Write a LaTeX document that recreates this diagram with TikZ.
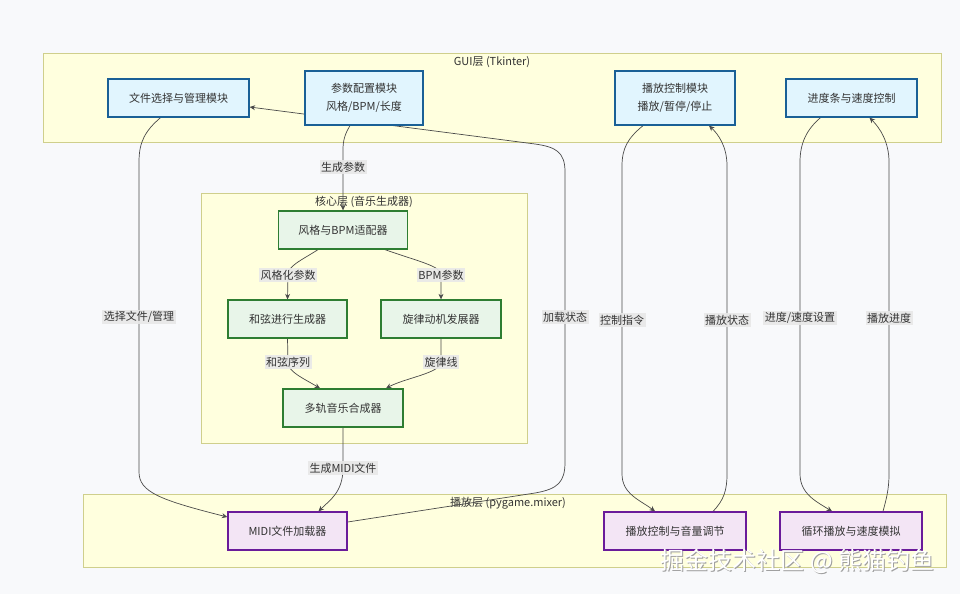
\documentclass[tikz,border=0pt]{standalone}
\usepackage{fontspec}
\setmainfont{Noto Sans CJK SC}
\usetikzlibrary{arrows.meta,calc}
\definecolor{bgc}{HTML}{F8F9FB}
\definecolor{frfill}{HTML}{FFFFDE}
\definecolor{frdraw}{HTML}{CFCF8C}
\definecolor{txt}{HTML}{333333}
\definecolor{guifill}{HTML}{E1F5FE}
\definecolor{guidraw}{HTML}{1A6096}
\definecolor{corefill}{HTML}{E8F5E9}
\definecolor{coredraw}{HTML}{2E7D32}
\definecolor{playfill}{HTML}{F3E5F5}
\definecolor{playdraw}{HTML}{6A1B9A}
\definecolor{edgec}{HTML}{4A4A4A}
\definecolor{lblbg}{HTML}{E8E8E8}
\pgfdeclarelayer{frames}
\pgfdeclarelayer{edges}
\pgfsetlayers{frames,edges,main}
\tikzset{
  base/.style={font=\fontsize{11}{18}\selectfont, text=txt},
  frame/.style={draw=frdraw, fill=frfill, line width=0.9pt},
  framelabel/.style={base, inner sep=0pt},
  guibox/.style={base, draw=guidraw, fill=guifill, line width=1.3pt, align=center, inner sep=0pt},
  corebox/.style={base, draw=coredraw, fill=corefill, line width=1.3pt, align=center, inner sep=0pt},
  playbox/.style={base, draw=playdraw, fill=playfill, line width=1.3pt, align=center, inner sep=0pt},
  conn/.style={draw=edgec, line width=0.7pt, -{Stealth[length=5.5pt,width=5pt]}},
  elabel/.style={base, fill=lblbg, fill opacity=0.9, text opacity=1, inner sep=1.5pt},
  wmark/.style={font=\fontsize{24}{24}\selectfont, inner sep=0pt},
}
\begin{document}
\begin{tikzpicture}[x=1pt,y=-1pt]
\useasboundingbox (0,0) rectangle (960,594);

% frames
\begin{pgfonlayer}{frames}
\fill[bgc] (0,0) rectangle (960,594);
\draw[frame] (43,53) rectangle (941,142);
\node[framelabel] (guil) at (492,62) {GUI层 (Tkinter)};
\draw[frame] (201,193) rectangle (527,443);
\node[framelabel] (corel) at (364,202) {核心层 (音乐生成器)};
\draw[frame] (83,494) rectangle (946,567);
\node[framelabel] (playl) at (508,503) {播放层 (pygame.mixer)};
\end{pgfonlayer}

% GUI nodes
\node[guibox, minimum width=141pt, minimum height=38pt] (fs) at (178.5,98) {文件选择与管理模块};
\node[guibox, minimum width=118pt, minimum height=54pt] (param) at (364,98) {参数配置模块\\风格/BPM/长度};
\node[guibox, minimum width=120pt, minimum height=54pt] (play) at (675,98) {播放控制模块\\播放/暂停/停止};
\node[guibox, minimum width=131pt, minimum height=38pt] (prog) at (851.5,98) {进度条与速度控制};

% core nodes
\node[corebox, minimum width=129pt, minimum height=38pt] (adapt) at (343,230) {风格与BPM适配器};
\node[corebox, minimum width=119pt, minimum height=38pt] (chord) at (287.5,319) {和弦进行生成器};
\node[corebox, minimum width=120pt, minimum height=38pt] (melody) at (441,319) {旋律动机发展器};
\node[corebox, minimum width=120pt, minimum height=38pt] (multi) at (343,408) {多轨音乐合成器};

% playback nodes
\node[playbox, minimum width=119pt, minimum height=38pt] (midi) at (287.5,531) {MIDI文件加载器};
\node[playbox, minimum width=142pt, minimum height=38pt] (pvol) at (675,531) {播放控制与音量调节};
\node[playbox, minimum width=142pt, minimum height=38pt] (loop) at (851,531) {循环播放与速度模拟};

% edges
\begin{pgfonlayer}{edges}
% 加载状态 : midi -> fs (behind param box)
\draw[conn] ($(midi.east)+(0,-9)$) -- (535,493)
  .. controls (558,489) and (565,482) .. (565,462)
  -- node[elabel] {加载状态} (565,172)
  .. controls (565,152) and (556,147) .. (535,144)
  -- ($(fs.east)+(0,9)$);
% 选择文件/管理 : fs -> midi
\draw[conn] ($(fs.south)+(-18,0)$) .. controls (145,131) and (139,142) .. (139,162)
  -- node[elabel] {选择文件/管理} (139,472)
  .. controls (139,492) and (160,500) .. ($(midi.west)+(0,-14)$);
% 生成参数 : param -> adapt
\draw[conn] ($(param.south)+(-14,0)$) .. controls (345,134) and (343,140) .. (343,150)
  -- (343,167) node[elabel] {生成参数} -- (adapt.north);
% 风格化参数
\draw[conn] ($(adapt.south)+(-25,0)$) .. controls (300,261) and (288,266) .. (288,275)
  node[elabel] {风格化参数} -- (chord.north);
% BPM参数
\draw[conn] ($(adapt.south)+(42,0)$) .. controls (420,262) and (441,266) .. (441,275)
  node[elabel] {BPM参数} -- (melody.north);
% 和弦序列
\draw[conn] (chord.south) -- (288,362) node[elabel] {和弦序列}
  .. controls (288,372) and (303,378) .. ($(multi.north)+(-23,0)$);
% 旋律线
\draw[conn] (melody.south) -- (441,362) node[elabel] {旋律线}
  .. controls (441,373) and (405,378) .. ($(multi.north)+(43,0)$);
% 生成MIDI文件
\draw[conn] (multi.south) -- (343,468) node[elabel] {生成MIDI文件}
  .. controls (343,492) and (330,500) .. ($(midi.north)+(31,0)$);
% 控制指令
\draw[conn] ($(play.south)+(-32,0)$) .. controls (628,138) and (622,148) .. (622,166)
  -- node[elabel] {控制指令} (622,474)
  .. controls (622,494) and (640,500) .. ($(pvol.north)+(-20,0)$);
% 播放状态
\draw[conn] ($(pvol.north)+(38,0)$) .. controls (724,500) and (727,490) .. (727,474)
  -- node[elabel] {播放状态} (727,166)
  .. controls (727,146) and (718,134) .. ($(play.south)+(34,0)$);
% 进度/速度设置
\draw[conn] ($(prog.south)+(-31,0)$) .. controls (806,130) and (800,144) .. (800,162)
  -- node[elabel] {进度/速度设置} (800,474)
  .. controls (800,494) and (817,502) .. ($(loop.north)+(-19,0)$);
% 播放进度
\draw[conn] ($(loop.north)+(32,0)$) .. controls (886,500) and (889,490) .. (889,474)
  -- node[elabel] {播放进度} (889,162)
  .. controls (889,142) and (880,128) .. ($(prog.south)+(18,0)$);
\end{pgfonlayer}

% watermark
\node[wmark, text=gray!75] (wm2) at (798.5,562.5) {掘金技术社区 @ 熊猫钓鱼};
\node[wmark, text=white] (wm) at (797.5,561.5) {掘金技术社区 @ 熊猫钓鱼};
\end{tikzpicture}
\end{document}
